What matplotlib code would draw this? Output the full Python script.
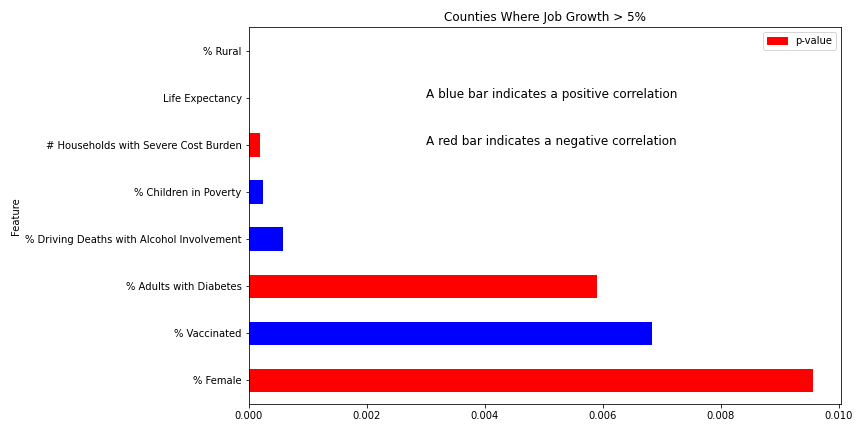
import matplotlib
matplotlib.use('Agg')
import matplotlib.pyplot as plt
import matplotlib.patches as mpatches

# Feature p-values (bottom to top)
features = ['% Female', '% Vaccinated', '% Adults with Diabetes',
            '% Driving Deaths with Alcohol Involvement', '% Children in Poverty',
            '# Households with Severe Cost Burden', 'Life Expectancy', '% Rural']
p_values = [0.00956, 0.00683, 0.00590, 0.000590, 0.000235, 0.000200, 0.0000005, 0.0000002]
bar_colors = ['red', 'blue', 'red', 'blue', 'blue', 'red', 'blue', 'red']

fig, ax = plt.subplots(figsize=(12, 6), dpi=72)
fig.subplots_adjust(left=0.2878, right=0.9737, top=0.9368, bottom=0.0648)

ax.barh(range(len(features)), p_values, height=0.5, color=bar_colors)
ax.set_yticks(range(len(features)))
ax.set_yticklabels(features)
ax.set_ylim(-0.5, len(features) - 0.5)
ax.set_ylabel('Feature')
ax.set_title('Counties Where Job Growth > 5%')

ax.text(0.003, 6, 'A blue bar indicates a positive correlation', fontsize=12)
ax.text(0.003, 5, 'A red bar indicates a negative correlation', fontsize=12)

ax.legend(handles=[mpatches.Patch(color='red', label='p-value')], loc='upper right')

plt.savefig('out.png', dpi=72, facecolor='white')
